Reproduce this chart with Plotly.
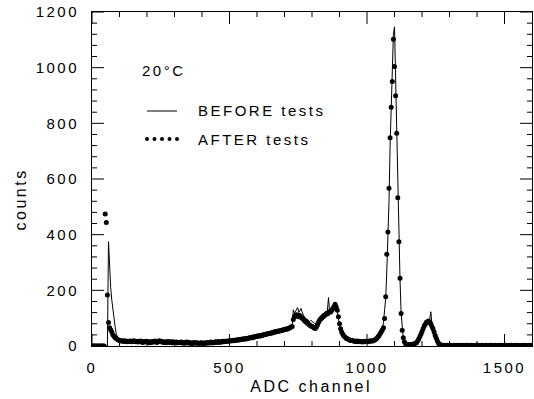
import numpy as np
import plotly.graph_objects as go

# ADC spectrum, 4-channel bins (bin start channel = 4*i), counts per bin
channel = np.arange(0, 1600, 4)

after_tests = [
    0, 0, 0, 0, 0, 0, 0, 0, 0, 0, 0, 0, 474, 444, 183, 84, 66, 58, 50, 40,
    35, 30, 27, 24, 22, 20, 19, 18, 17, 19, 16, 18, 15, 17, 16, 18, 15, 16, 19, 17,
    15, 17, 14, 16, 18, 15, 13, 16, 14, 15, 17, 14, 12, 15, 13, 16, 14, 18, 15, 13,
    16, 19, 15, 17, 14, 13, 15, 12, 14, 16, 13, 15, 14, 12, 15, 13, 11, 14, 12, 13,
    12, 14, 11, 13, 10, 12, 14, 11, 13, 10, 12, 9, 11, 13, 10, 12, 11, 9, 10, 12,
    10, 11, 9, 12, 10, 13, 11, 12, 14, 11, 13, 12, 15, 13, 14, 16, 13, 15, 14, 17,
    15, 17, 16, 18, 17, 19, 18, 20, 19, 21, 20, 22, 21, 23, 22, 24, 23, 25, 26, 24,
    27, 26, 28, 30, 29, 31, 30, 33, 32, 34, 36, 35, 37, 36, 39, 38, 40, 42, 41, 43,
    45, 44, 46, 48, 47, 49, 51, 50, 52, 54, 53, 55, 57, 56, 58, 60, 59, 62, 61, 64,
    66, 68, 70, 95, 105, 110, 112, 108, 105, 110, 103, 100, 98, 92, 88, 85, 82, 78, 75, 72,
    70, 68, 65, 63, 68, 76, 85, 93, 97, 101, 105, 108, 112, 117, 115, 120, 124, 122, 128, 135,
    142, 150, 140, 128, 105, 80, 62, 50, 42, 36, 32, 28, 26, 24, 22, 21, 20, 19, 18, 17,
    16, 18, 15, 17, 16, 15, 14, 16, 15, 17, 16, 15, 18, 17, 19, 18, 20, 22, 24, 28,
    33, 38, 45, 51, 58, 66, 99, 177, 330, 410, 567, 748, 858, 950, 1102, 1004, 899, 764, 533, 375,
    243, 117, 57, 30, 15, 8, 6, 5, 4, 5, 4, 6, 5, 8, 10, 12, 18, 25, 33, 42,
    52, 62, 72, 78, 85, 87, 90, 84, 80, 70, 62, 50, 38, 28, 18, 10, 6, 4, 3, 2,
    3, 2, 2, 3, 1, 2, 3, 2, 2, 1, 3, 2, 2, 3, 2, 1, 2, 3, 2, 2,
    2, 3, 1, 2, 2, 3, 2, 2, 1, 2, 3, 2, 2, 2, 1, 3, 2, 2, 3, 2,
    2, 1, 2, 3, 2, 2, 2, 3, 1, 2, 2, 3, 2, 1, 2, 2, 3, 2, 2, 1,
    2, 3, 2, 2, 1, 2, 3, 2, 2, 2, 1, 2, 3, 2, 2, 1, 2, 2, 3, 2,
]

before_tests = [
    0, 0, 0, 0, 0, 0, 0, 0, 0, 0, 0, 0, 0, 0, 0, 375, 260, 210, 165, 125,
    95, 70, 45, 32, 22, 20, 18, 19, 17, 16, 18, 15, 17, 16, 14, 17, 15, 16, 18, 14,
    16, 15, 17, 13, 16, 17, 14, 15, 13, 16, 15, 16, 13, 14, 15, 14, 16, 15, 17, 14,
    15, 17, 16, 14, 15, 12, 14, 13, 15, 14, 12, 14, 13, 13, 14, 12, 12, 13, 11, 14,
    13, 12, 12, 14, 11, 11, 13, 12, 12, 11, 11, 10, 12, 12, 11, 11, 12, 10, 11, 11,
    11, 12, 10, 11, 11, 12, 12, 13, 13, 12, 12, 13, 14, 14, 13, 15, 14, 14, 15, 16,
    16, 16, 17, 17, 18, 18, 19, 19, 20, 20, 21, 21, 22, 22, 23, 23, 24, 24, 25, 25,
    26, 27, 28, 29, 30, 30, 31, 32, 33, 33, 35, 36, 36, 37, 38, 39, 41, 41, 42, 44,
    44, 45, 47, 47, 48, 50, 50, 51, 53, 53, 54, 56, 56, 57, 59, 59, 60, 62, 63, 64,
    65, 67, 72, 130, 118, 125, 132, 138, 120, 128, 135, 122, 112, 100, 96, 98, 94, 90, 88, 92,
    88, 85, 82, 80, 84, 90, 98, 105, 110, 112, 118, 115, 120, 125, 128, 174, 125, 130, 135, 140,
    145, 140, 135, 120, 95, 72, 55, 44, 38, 33, 30, 27, 25, 23, 22, 20, 19, 18, 17, 16,
    17, 16, 16, 16, 15, 16, 15, 15, 16, 16, 16, 16, 17, 18, 18, 19, 21, 23, 26, 30,
    30, 36, 42, 50, 60, 85, 130, 170, 270, 390, 520, 720, 850, 980, 1120, 1147, 960, 780, 545, 380,
    240, 120, 55, 25, 12, 7, 5, 4, 5, 4, 5, 6, 5, 7, 9, 12, 17, 24, 32, 40,
    50, 60, 70, 78, 86, 92, 96, 95, 123, 80, 66, 52, 38, 26, 16, 9, 5, 4, 3, 2,
    2, 2, 3, 2, 1, 2, 2, 3, 2, 2, 1, 2, 2, 2, 3, 2, 1, 2, 2, 2,
    2, 2, 1, 2, 3, 2, 2, 1, 2, 2, 2, 3, 2, 1, 2, 2, 2, 2, 3, 2,
    1, 2, 2, 2, 3, 2, 1, 2, 2, 2, 2, 3, 2, 2, 1, 2, 2, 2, 3, 2,
    2, 1, 2, 2, 3, 2, 2, 2, 1, 2, 2, 3, 2, 2, 2, 1, 2, 2, 2, 2,
]

series_names = ["BEFORE tests", "AFTER tests"]
temperature_label = "20°C"
x_title = "ADC channel"
y_title = "counts"

# axis tick positions (major labelled, minor unlabelled)
x_major = [0, 500, 1000, 1500]
x_minor = [v for v in range(100, 1600, 100) if v % 500]
y_major = [0, 200, 400, 600, 800, 1000, 1200]
y_minor = [v for v in range(40, 1200, 40) if v % 200]

FONT = "Liberation Sans, Arial, sans-serif"

# plot frame in pixels (margins below)
L, R, T, B = 92, 532, 12, 346
W, H = R - L, B - T


def px_x(px):
    return (px - L) / W


def px_y(py):
    return (B - py) / H


fig = go.Figure()

fig.add_trace(go.Scatter(
    x=channel, y=before_tests, mode="lines", name=series_names[0],
    line=dict(color="black", width=1), showlegend=False,
))
fig.add_trace(go.Scatter(
    x=channel, y=after_tests, mode="markers", name=series_names[1],
    marker=dict(color="black", size=5, line=dict(width=0)), showlegend=False,
))

fig.update_layout(
    width=534, height=399,
    margin=dict(l=L, r=534 - R, t=T, b=399 - B),
    plot_bgcolor="white",
    font=dict(family=FONT, size=15, color="black"),
    xaxis=dict(range=[0, 1600], tickmode="array", tickvals=x_major,
               ticks="", showline=True, linecolor="black", mirror=True,
               showgrid=False, zeroline=False, ticklabelstandoff=8),
    yaxis=dict(range=[0, 1200], tickmode="array", tickvals=y_major,
               ticks="", showline=True, linecolor="black", mirror=True,
               showgrid=False, zeroline=False, ticklabelstandoff=9),
)

# inward tick marks on all four sides, placed through the axis scales
tick_line = dict(color="black", width=1)
for vals, length in ((x_major, 12), (x_minor, 5)):
    for v in vals:
        fig.add_shape(type="line", xref="x", yref="paper", x0=v, x1=v,
                      y0=0, y1=length / H, line=tick_line, layer="above")
        fig.add_shape(type="line", xref="x", yref="paper", x0=v, x1=v,
                      y0=1, y1=1 - length / H, line=tick_line, layer="above")
for vals, length in ((y_major, 12), (y_minor, 5)):
    for v in vals:
        fig.add_shape(type="line", xref="paper", yref="y", y0=v, y1=v,
                      x0=0, x1=length / W, line=tick_line, layer="above")
        fig.add_shape(type="line", xref="paper", yref="y", y0=v, y1=v,
                      x0=1, x1=1 - length / W, line=tick_line, layer="above")

# legend keys: a line sample and a row of five dots
fig.add_shape(type="line", xref="paper", yref="paper",
              x0=px_x(147), x1=px_x(177), y0=px_y(111), y1=px_y(111),
              line=dict(color="black", width=1))
for k in range(5):
    cx, cy = 147 + 7.5 * k, 139
    fig.add_shape(type="circle", xref="paper", yref="paper",
                  x0=px_x(cx - 2), x1=px_x(cx + 2), y0=px_y(cy + 2), y1=px_y(cy - 2),
                  fillcolor="black", line=dict(width=0))

text_font = dict(family=FONT, size=15, color="black")
title_font = dict(family=FONT, size=16, color="black")
annotations = [
    dict(x=px_x(140), y=px_y(70), text=temperature_label, xanchor="left", align="left", font=text_font),
    dict(x=px_x(196), y=px_y(111), text=series_names[0], xanchor="left", align="left", font=text_font),
    dict(x=px_x(196), y=px_y(139), text=series_names[1], xanchor="left", align="left", font=text_font),
    dict(x=px_x(311), y=px_y(386), text=x_title, xanchor="center", font=title_font),
    dict(x=px_x(20), y=px_y(200), text=y_title, textangle=-90, xanchor="center", font=title_font),
]
for a in annotations:
    fig.add_annotation(xref="paper", yref="paper", yanchor="middle", showarrow=False, **a)

# wide letter tracking for all text
tracking_js = (
    "document.querySelectorAll('.main-svg text').forEach(function(t){"
    "t.style.letterSpacing='2.5px';});"
)

fig.write_html("out.html", post_script=tracking_js)
